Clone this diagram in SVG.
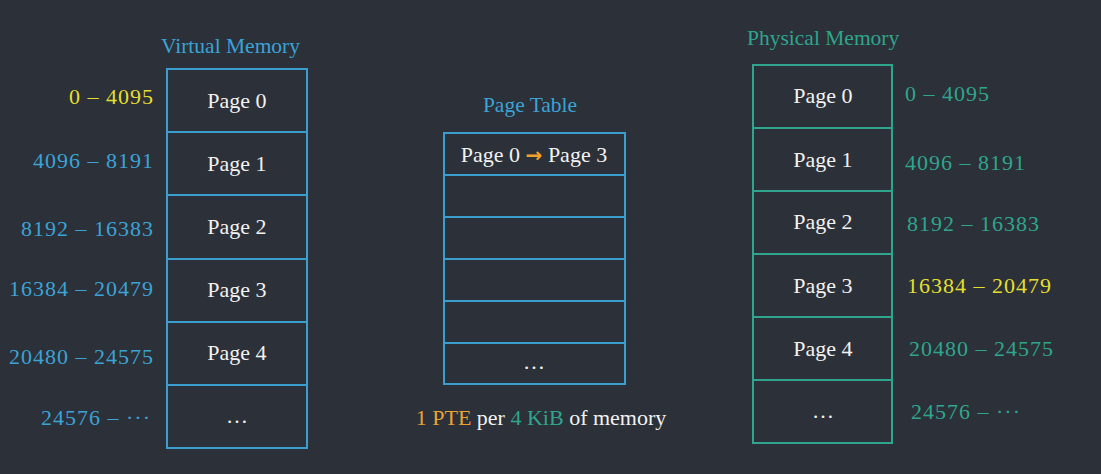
<svg xmlns="http://www.w3.org/2000/svg" width="1101" height="474" viewBox="0 0 1101 474">
<style>
text{font-family:"Liberation Serif","Times New Roman",serif}
.cell{fill:#2c3038;stroke-width:2}
.v{stroke:#3a9fcf}
.p{stroke:#2fa58d}
.lbl{fill:#f2f2f2;font-size:22px;text-anchor:middle}
.rng{font-size:22px;letter-spacing:1px}
.vr{fill:#3ba3d6;text-anchor:end}
.pr{fill:#2fa58d;text-anchor:start}
.yl{fill:#e3df2e}
.title{font-size:21.5px}
.arr{font-family:"DejaVu Sans",sans-serif;font-weight:bold;fill:#f0a02c;font-size:20px}
</style>
<rect width="1101" height="474" fill="#2c3038"/>

<text class="title" x="161" y="53" fill="#3ba3d6">Virtual Memory</text>
<g id="virtual-memory">
<g id="v0"><rect class="cell v" x="167" y="69" width="140" height="63"/><text class="lbl" x="237" y="108">Page 0</text><text class="rng vr yl" x="154" y="104">0 – 4095</text></g>
<g id="v1"><rect class="cell v" x="167" y="132" width="140" height="63"/><text class="lbl" x="237" y="171">Page 1</text><text class="rng vr" x="154" y="168">4096 – 8191</text></g>
<g id="v2"><rect class="cell v" x="167" y="195" width="140" height="64"/><text class="lbl" x="237" y="234">Page 2</text><text class="rng vr" x="154" y="236">8192 – 16383</text></g>
<g id="v3"><rect class="cell v" x="167" y="259" width="140" height="63"/><text class="lbl" x="237" y="297">Page 3</text><text class="rng vr" x="154" y="296">16384 – 20479</text></g>
<g id="v4"><rect class="cell v" x="167" y="322" width="140" height="63"/><text class="lbl" x="237" y="360">Page 4</text><text class="rng vr" x="154" y="364">20480 – 24575</text></g>
<g id="v5"><rect class="cell v" x="167" y="385" width="140" height="63"/><text class="lbl" x="237" y="423">…</text><text class="rng vr" x="151" y="425">24576 – ···</text></g>
</g>

<text class="title" x="530" y="112" fill="#3ba3d6" text-anchor="middle">Page Table</text>
<g id="page-table">
<g id="pt0"><rect class="cell v" x="444" y="133" width="181" height="42"/><text class="lbl" x="534" y="162">Page 0 <tspan class="arr">→</tspan> Page 3</text></g>
<g id="pt1"><rect class="cell v" x="444" y="175" width="181" height="42"/></g>
<g id="pt2"><rect class="cell v" x="444" y="217" width="181" height="42"/></g>
<g id="pt3"><rect class="cell v" x="444" y="259" width="181" height="42"/></g>
<g id="pt4"><rect class="cell v" x="444" y="301" width="181" height="42"/></g>
<g id="pt5"><rect class="cell v" x="444" y="343" width="181" height="41"/><text class="lbl" x="534" y="369">…</text></g>
</g>
<g id="note"><text class="lbl" x="541" y="425"><tspan fill="#eba232">1 PTE</tspan> per <tspan fill="#2fa58d">4 KiB</tspan> of memory</text></g>

<text class="title" x="747" y="45" fill="#2fa58d">Physical Memory</text>
<g id="physical-memory">
<g id="p0"><rect class="cell p" x="753" y="65" width="139" height="63"/><text class="lbl" x="823" y="103">Page 0</text><text class="rng pr" x="905" y="101">0 – 4095</text></g>
<g id="p1"><rect class="cell p" x="753" y="128" width="139" height="63"/><text class="lbl" x="823" y="167">Page 1</text><text class="rng pr" x="905" y="170">4096 – 8191</text></g>
<g id="p2"><rect class="cell p" x="753" y="191" width="139" height="63"/><text class="lbl" x="823" y="229">Page 2</text><text class="rng pr" x="907" y="231">8192 – 16383</text></g>
<g id="p3"><rect class="cell p" x="753" y="254" width="139" height="63"/><text class="lbl" x="823" y="293">Page 3</text><text class="rng pr yl" x="907" y="293">16384 – 20479</text></g>
<g id="p4"><rect class="cell p" x="753" y="317" width="139" height="63"/><text class="lbl" x="823" y="356">Page 4</text><text class="rng pr" x="909" y="356">20480 – 24575</text></g>
<g id="p5"><rect class="cell p" x="753" y="380" width="139" height="63"/><text class="lbl" x="823" y="418">…</text><text class="rng pr" x="911" y="419">24576 – ···</text></g>
</g>
</svg>
